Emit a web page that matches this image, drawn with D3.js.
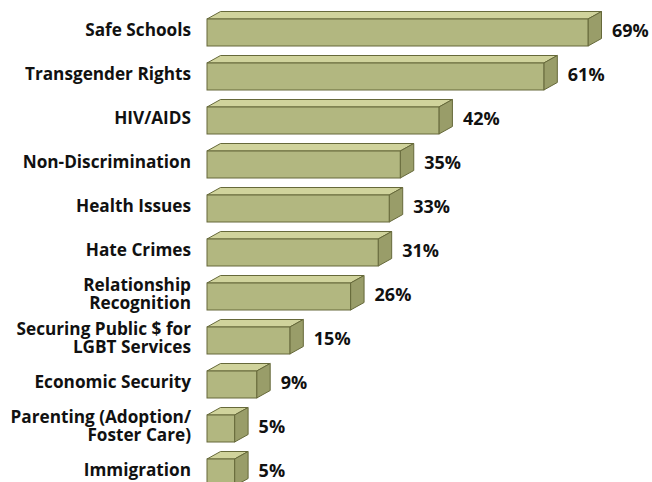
<!DOCTYPE html>
<html><head><meta charset="utf-8">
<script src="https://cdn.jsdelivr.net/npm/d3@7"></script>
<style>body{margin:0;background:#fff}svg{display:block}</style>
</head><body>
<script>
const categories = ["Safe Schools","Transgender Rights","HIV/AIDS","Non-Discrimination","Health Issues","Hate Crimes","Relationship|Recognition","Securing Public $ for|LGBT Services","Economic Security","Parenting (Adoption/|Foster Care)","Immigration"];
const values = [69,61,42,35,33,31,26,15,9,5,5];
const valueLabels = ["69%","61%","42%","35%","33%","31%","26%","15%","9%","5%","5%"];

const W = 652, H = 482;
const svg = d3.select("body").append("svg").attr("width", W).attr("height", H);
const x = d3.scaleLinear().domain([0, 69]).range([207, 588]);
const y = d3.scaleBand().domain(categories).range([19, 19 + 44 * 11 - 17]).paddingInner(17/44).paddingOuter(0);
const bh = y.bandwidth(), dx = 13.5, dy = -7.5;

const font = "'Open Sans', sans-serif";
const stroke = "#66693a";
const g = svg.append("g");
categories.forEach((c, i) => {
  const x0 = x(0), x1 = x(values[i]), t = y(c), b = t + bh;
  g.append("path").attr("d", `M${x0},${t}L${x0+dx},${t+dy}L${x1+dx},${t+dy}L${x1},${t}Z`)
    .attr("fill", "#d0d39c").attr("stroke", stroke).attr("stroke-width", 1).attr("stroke-linejoin", "round");
  g.append("path").attr("d", `M${x1},${t}L${x1+dx},${t+dy}L${x1+dx},${b+dy}L${x1},${b}Z`)
    .attr("fill", "#999d69").attr("stroke", stroke).attr("stroke-width", 1).attr("stroke-linejoin", "round");
  g.append("rect").attr("x", x0).attr("y", t).attr("width", x1 - x0).attr("height", bh)
    .attr("fill", "#b2b780").attr("stroke", stroke).attr("stroke-width", 1);
  g.append("text").attr("x", x1 + dx + 10.5).attr("y", t + bh/2 - 2 + 6.4)
    .attr("font-family", font).attr("font-weight", 700).attr("font-size", 18)
    .attr("fill", "#111").text(valueLabels[i]);
  const lines = c.split("|");
  const cy = t + bh/2 - 3;
  const txt = g.append("text").attr("text-anchor", "end")
    .attr("font-family", font).attr("font-weight", 700).attr("font-size", 17.2)
    .attr("fill", "#111");
  lines.forEach((ln, j) => {
    txt.append("tspan").attr("x", 191).attr("y", cy + (j - (lines.length - 1)/2) * 17.8 + 6.1).text(ln);
  });
});
</script>
</body></html>
